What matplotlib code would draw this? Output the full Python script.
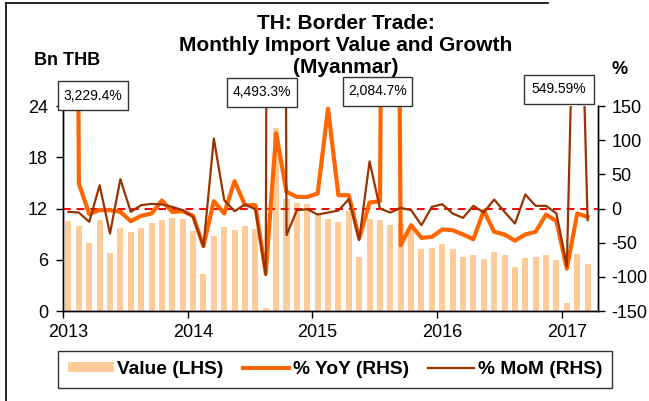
import numpy as np
import matplotlib
matplotlib.use("Agg")
import matplotlib.pyplot as plt
from matplotlib.patches import Rectangle
from matplotlib.lines import Line2D
from matplotlib.transforms import blended_transform_factory

plt.rcParams["font.family"] = ["Liberation Sans", "DejaVu Sans"]
plt.rcParams["axes.unicode_minus"] = False

# monthly data, Jan 2013 .. Mar 2017
value_bn = [10.56, 9.94, 7.95, 10.7, 6.78, 9.7, 9.28, 9.67, 10.3, 10.7, 10.9, 10.8,
            9.4, 4.33, 8.8, 9.86, 9.47, 10.0, 9.6, 0.4, 21.4, 13.1, 12.6, 12.55,
            11.3, 10.76, 10.37, 11.7, 6.3, 10.76, 10.7, 10.1, 10.2, 9.9, 7.25, 7.37,
            7.84, 7.25, 6.28, 6.51, 6.12, 6.94, 6.59, 5.18, 6.2, 6.35, 6.55, 6.0,
            0.97, 6.7, 5.5]
yoy_pct = [3229.4, 36.6, -8, -2.4, -2.4, -4.9, -18.5, -10.7, -7.3, 11.7, -4.9, -3.9,
           -10.7, -55, 10.7, -7.3, 40, 4.9, 4.9, -95, 110, 24.4, 17, 17,
           22, 146, 19.5, 19.5, -44, 8.8, 10.7, 2084.7, -53.7, -24.4, -43, -41.5,
           -30.7, -31.7, -38, -45, -3, -34, -38, -47, -38, -34, -8.8, -18.5,
           -88, -7.3, -12.2]
mom_pct = [-4.9, -5.9, -19.5, 34, -36.6, 43, -4.9, 4.9, 6.8, 5.9, 2.4, -2.4,
           -12.2, -56, 102.5, 12.2, -3.9, 5.9, -1, -97.6, 4493.3, -39, -2.4, -1,
           -8.8, -5.9, -2.9, 13.7, -46, 69, 0, -5.9, 1, -2.4, -24.4, 2.4,
           6.3, -7.3, -13.7, 3.9, -5.9, 13.2, -4.9, -22, 20.5, 3.9, 3.9, -7.3,
           -85, 549.59, -17]
year_labels = ["2013", "2014", "2015", "2016", "2017"]
callout_labels = ["3,229.4%", "4,493.3%", "2,084.7%", "549.59%"]

# callout boxes: left edge (months), bottom (axes fraction)
callout_boxes = [(-0.5, 0.980), (15.8, 0.995), (26.9, 1.0), (44.4, 1.01)]
BOX_W, BOX_H = 6.7, 0.142

BAR_C = "#FFCC99"
YOY_C = "#FF6600"
MOM_C = "#993300"

fig = plt.figure(figsize=(6.49, 4.01), dpi=100)
ax = fig.add_axes([0.0975, 0.2244, 0.8239, 0.5112])

x = np.arange(len(value_bn)) + 0.5
ax.bar(x, value_bn, width=0.58, color=BAR_C, zorder=1)
ax.set_xlim(0, 51.5)
ax.set_ylim(0, 24)
ax.set_yticks(range(0, 25, 6))

ax2 = ax.twinx()
ax2.set_ylim(-150, 150)
ax2.set_yticks(range(-150, 151, 50))
ax2.axhline(0, color="red", ls=(0, (4, 3)), lw=1.4, zorder=1)
ax2.plot(x, yoy_pct, color=YOY_C, lw=3.0, zorder=2)
ax2.plot(x, mom_pct, color=MOM_C, lw=1.6, zorder=3)

for a in (ax, ax2):
    a.spines["top"].set_visible(False)
    for s in ("left", "right", "bottom"):
        a.spines[s].set_color("black")
        a.spines[s].set_linewidth(1.0)

years = np.arange(len(year_labels)) * 12
ax.set_xticks(years)
ax.set_xticklabels([""] * len(years))
ax.set_xticks(years + 0.5, minor=True)
ax.set_xticklabels(year_labels, minor=True)
ax.tick_params(axis="x", which="major", direction="out", length=5, width=1)
ax.tick_params(axis="x", which="minor", length=0, pad=9, labelsize=13)
ax.tick_params(axis="y", direction="out", length=5, width=1, pad=6, labelsize=13)
ax2.tick_params(axis="y", direction="out", length=5, width=1, pad=4.5, labelsize=13)

trans = blended_transform_factory(ax2.transData, ax2.transAxes)
for (bx, by), lab in zip(callout_boxes, callout_labels):
    ax2.add_patch(Rectangle((bx, by), BOX_W, BOX_H, transform=trans, clip_on=False,
                            fc="white", ec="#333333", lw=1.0, zorder=10))
    ax2.text(bx + BOX_W / 2, by + BOX_H / 2, lab, transform=trans, ha="center",
             va="center", fontsize=10, zorder=11)

fig.text(346 / 649, 1 - 45.5 / 401, "TH: Border Trade:\nMonthly Import Value and Growth\n(Myanmar)",
         ha="center", va="center", fontsize=15, weight="bold", linespacing=1.17)
fig.text(66.7 / 649, 1 - 60.5 / 401, "Bn THB", ha="center", va="center",
         fontsize=13, weight="bold")
fig.text(620 / 649, 1 - 69 / 401, "%", ha="center", va="center",
         fontsize=13, weight="bold")

handles = [Rectangle((0, 0), 1, 1, fc=BAR_C, ec="none"),
           Line2D([], [], color=YOY_C, lw=3.0),
           Line2D([], [], color=MOM_C, lw=1.6)]
leg = fig.legend(handles, ["Value (LHS)", "% YoY (RHS)", "% MoM (RHS)"],
                 loc="center", bbox_to_anchor=(335 / 649, 1 - 369.5 / 401), ncol=3,
                 frameon=True, fancybox=False, edgecolor="black",
                 prop={"weight": "bold", "size": 13.8}, handlelength=2.4,
                 handleheight=0.45, handletextpad=0.2, columnspacing=1.0,
                 borderpad=0.5)
leg.get_frame().set_linewidth(1.0)

# outer frame of the original picture
fig.add_artist(Line2D([6 / 649, 6 / 649], [0, 1 - 3 / 401], color="black", lw=1.2))
fig.add_artist(Line2D([6 / 649, 548 / 649], [1 - 3 / 401] * 2, color="black", lw=1.2))

fig.savefig("out.png", dpi=100)
